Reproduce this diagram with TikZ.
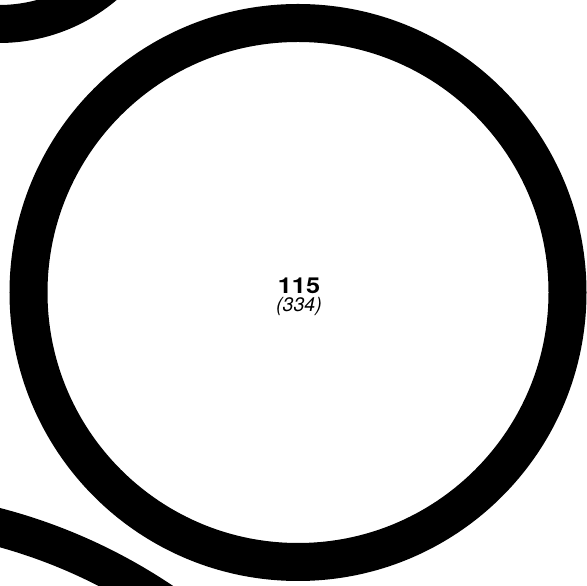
\documentclass[tikz,border=0pt]{standalone}
\usepackage{fontspec}
\setmainfont{TeX Gyre Heros}
\newfontfamily\valfont[FakeStretch=1.15]{TeX Gyre Heros}
\usetikzlibrary{positioning}

\begin{document}
\begin{tikzpicture}[x=1pt, y=1pt,
  bubble/.style={circle, draw=black, line width=38pt, inner sep=0pt, outer sep=0pt},
  lbl/.style={align=center, anchor=base, inner sep=0pt,
              font=\fontsize{22}{18.5}\selectfont},
]
\useasboundingbox (0,0) rectangle (587,586);
\clip (0,0) rectangle (587,586);
% bubbles
\node[bubble, minimum size=539pt] (main) at (298,293.5) {};
\node[bubble, minimum size=326.8pt] (upleft) at (-1,725.4) {};
\node[bubble, minimum size=1092pt] (lowleft) at (-142,-469) {};
% label of the middle bubble
\node[lbl] (val) at (299,274)
  {{\valfont\bfseries 115}\\{\fontsize{19.5}{18.5}\selectfont\itshape (334)}};
\end{tikzpicture}
\end{document}
